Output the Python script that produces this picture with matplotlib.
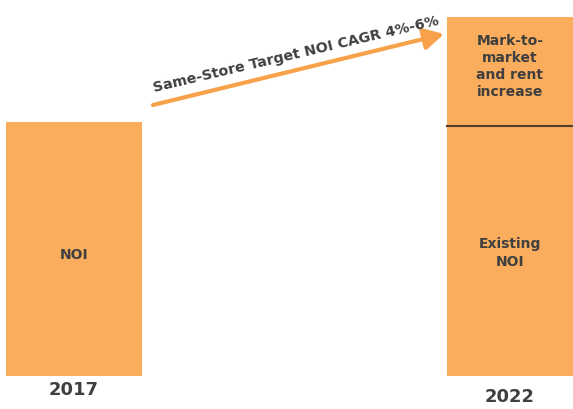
"""Same-store NOI bridge: 2017 NOI vs 2022 (existing NOI + mark-to-market)."""

import matplotlib

matplotlib.use("Agg")
import matplotlib.pyplot as plt  # noqa: E402

# values (arbitrary units)
years = ["2017", "2022"]
noi_2017 = 254
existing_noi_2022 = 250
mtm_2022 = 109
arrow_label = "Same-Store Target NOI CAGR 4%-6%"

BAR = "#F9AD5D"
ARROW = "#F7A24A"
TEXT = "#3F3F3F"
FONT = "DejaVu Sans"


def main():
    fig = plt.figure(figsize=(5.73, 4.09), dpi=100)
    ax = fig.add_axes([0, 0, 1, 1])
    ax.set_xlim(0, 573)
    ax.set_ylim(-33, 376)
    ax.axis("off")

    x_left, w_left = 74, 136
    x_right, w_right = 510, 126

    ax.bar(x_left, noi_2017, width=w_left, color=BAR, linewidth=0)
    ax.bar(x_right, existing_noi_2022, width=w_right, color=BAR, linewidth=0)
    ax.bar(x_right, mtm_2022, bottom=existing_noi_2022, width=w_right,
           color=BAR, linewidth=0)
    # divider between the two stacked pieces
    ax.plot([x_right - w_right / 2, x_right + w_right / 2],
            [existing_noi_2022, existing_noi_2022], color="#4E3E2C", lw=1.5)

    ax.text(x_left, noi_2017 / 2 - 6, "NOI", ha="center", va="center",
            fontsize=10, fontweight="bold", color=TEXT, family=FONT)
    ax.text(x_right, existing_noi_2022 / 2 - 2, "Existing\nNOI", ha="center",
            va="center", fontsize=10, fontweight="bold", color=TEXT,
            family=FONT, linespacing=1.35)
    ax.text(x_right, existing_noi_2022 + mtm_2022 / 2 + 5,
            "Mark-to-\nmarket\nand rent\nincrease", ha="center", va="center",
            fontsize=10, fontweight="bold", color=TEXT, family=FONT,
            linespacing=1.25)

    ax.text(x_left, -14, years[0], ha="center", va="center", fontsize=13,
            fontweight="bold", color=TEXT, family=FONT)
    ax.text(x_right, -21, years[1], ha="center", va="center", fontsize=13,
            fontweight="bold", color=TEXT, family=FONT)

    ax.annotate("", xy=(444, 342), xytext=(153, 271),
                arrowprops=dict(arrowstyle="-|>,head_length=1.2,head_width=0.65",
                                color=ARROW, lw=3, shrinkA=0, shrinkB=0))
    ax.text(296, 322, arrow_label, ha="center", va="center", rotation=13.3,
            rotation_mode="anchor", fontsize=10.3, fontweight="bold",
            color=TEXT, family=FONT)

    fig.savefig("out.png", dpi=100)
    plt.close(fig)


if __name__ == "__main__":
    main()
